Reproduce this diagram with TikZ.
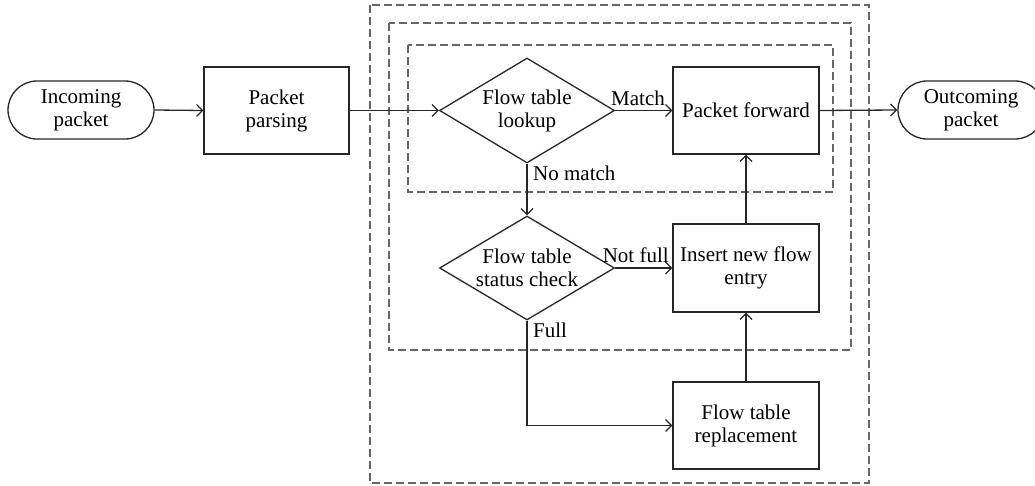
\documentclass[tikz,border=0pt]{standalone}
\usepackage{fontspec}
\setmainfont{Liberation Serif}
\usetikzlibrary{arrows.meta,shapes.geometric,shapes.misc,positioning}

\tikzset{
  every node/.style={font=\fontsize{21}{23}\selectfont},
  flowline/.style={draw=black!85, line width=1.3pt},
  flowarrow/.style={flowline, -{Straight Barb[length=6pt,width=12pt,line width=1.2pt]}},
  stepbox/.style={draw=black!85, line width=1.3pt, rectangle, minimum width=146pt,
    minimum height=87pt, align=center, inner sep=0pt},
  decisionbox/.style={draw=black!85, line width=1.3pt, diamond, aspect=1.67,
    minimum width=175pt, minimum height=105pt, align=center, inner sep=0pt},
  terminal/.style={draw=black!85, line width=1.3pt, rounded rectangle,
    minimum width=146pt, minimum height=58pt, align=center, inner sep=0pt},
  groupbox/.style={draw=black!60, line width=1.1pt, dash pattern=on 8pt off 4pt},
  edgelabel/.style={inner sep=1pt}
}

\begin{document}
\begin{tikzpicture}[x=1pt,y=-1pt]
\useasboundingbox (0,0) rectangle (1035,485);

% nested dashed group frames
\draw[groupbox] (370,5) rectangle (869,483);
\draw[groupbox] (389,23) rectangle (851,350);
\draw[groupbox] (408,45) rectangle (833,192);

% flow steps
\node[terminal] (inc) at (81,110) {Incoming\\packet};
\node[stepbox, minimum width=145pt] (parse) at (276.5,110.5) {Packet\\parsing};
\node[decisionbox] (lookup) at (527,110.5) {Flow table\\lookup};
\node[stepbox] (fwd) at (746,110.5) {Packet forward};
\node[terminal] (out) at (971,110) {Outcoming\\packet};
\node[decisionbox, minimum height=104pt] (status) at (527,268) {Flow table\\status check};
\node[stepbox, minimum height=88pt] (ins) at (746,268) {Insert new flow\\entry};
\node[stepbox] (repl) at (746,425.5) {Flow table\\replacement};

% connectors
\draw[flowarrow] (inc.east) -- (parse.west);
\draw[flowarrow] (parse.east) -- (lookup.west);
\draw[flowarrow] (lookup.east) -- node[edgelabel, above=3pt, pos=0.4] {Match} (fwd.west);
\draw[flowarrow] (fwd.east) -- (out.west);
\draw[flowarrow] (lookup.south) -- (status.north);
\node[edgelabel, anchor=north west] (nomatch) at ([xshift=5pt,yshift=-1pt]lookup.south) {No match};
\draw[flowarrow] (status.east) -- node[edgelabel, above=4pt, pos=0.36] {Not full} (ins.west);
\draw[flowarrow] (status.south) |- (repl.west);
\node[edgelabel, anchor=north west] (full) at ([xshift=5pt,yshift=-1pt]status.south) {Full};
\draw[flowarrow] (repl.north) -- (ins.south);
\draw[flowarrow] (ins.north) -- (fwd.south);
\end{tikzpicture}
\end{document}
